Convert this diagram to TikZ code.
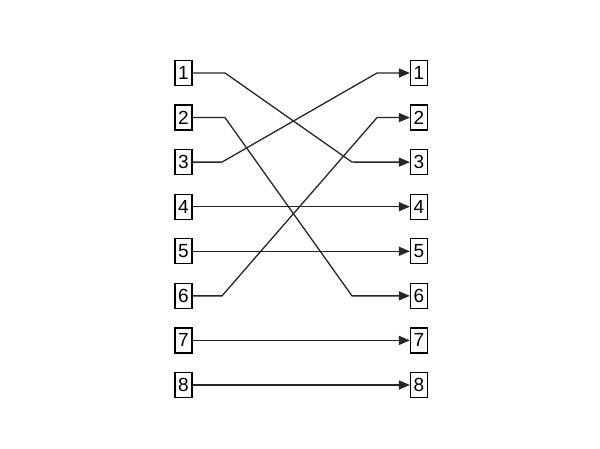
\documentclass[tikz,border=0pt]{standalone}
\usepackage{fontspec}
\setmainfont{Liberation Sans}
\usetikzlibrary{arrows.meta}
\begin{document}
\begin{tikzpicture}[x=1pt,y=-1pt,
  numbox/.style={draw=black,line width=1.2pt,minimum width=17pt,minimum height=25pt,inner sep=0pt,font=\fontsize{19}{19}\selectfont},
  conn/.style={draw=black!85,line width=1.3pt,-{Triangle[length=11pt,width=9pt]}}]
\useasboundingbox (0,0) rectangle (600,449);
\foreach \i in {1,...,8}{
  \node[numbox] (L\i) at (183.5,{73+(\i-1)*44.57}) {\i};
  \node[numbox] (R\i) at (419,{73+(\i-1)*44.57}) {\i};
}
\draw[conn] (L1.east) -- (225,73) -- (352,162.1) -- (R3.west);
\draw[conn] (L2.east) -- (225,117.6) -- (352,295.9) -- (R6.west);
\draw[conn] (L3.east) -- (222,162.1) -- (377,73) -- (R1.west);
\draw[conn] (L4.east) -- (R4.west);
\draw[conn] (L5.east) -- (R5.west);
\draw[conn] (L6.east) -- (222,295.9) -- (377,117.6) -- (R2.west);
\draw[conn] (L7.east) -- (R7.west);
\draw[conn] (L8.east) -- (R8.west);
\end{tikzpicture}
\end{document}
